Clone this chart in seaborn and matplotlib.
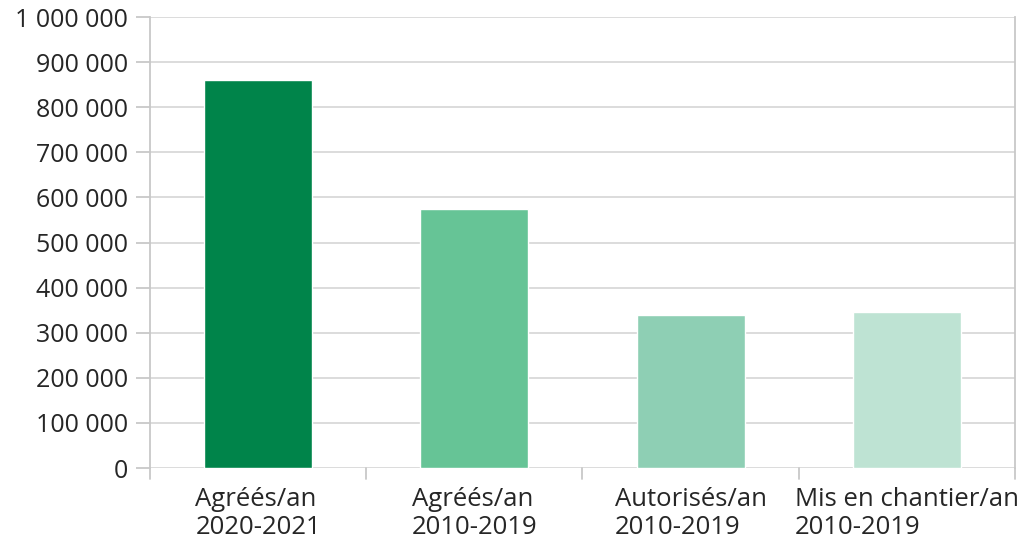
import pandas as pd
import numpy as np
import matplotlib.pyplot as plt
import seaborn as sns

# Values
categories = ['Agréés/an\n2020-2021', 'Agréés/an\n2010-2019',
              'Autorisés/an\n2010-2019', 'Mis en chantier/an\n2010-2019']
values = [860000, 575000, 339000, 346000]
colors = ['#00844A', '#66C496', '#8ECFB4', '#BEE3D3']
yticks = list(range(0, 1000001, 100000))

df = pd.DataFrame({'cat': categories, 'val': values})

sns.set_style('white')
plt.rcParams['font.family'] = ['Open Sans', 'DejaVu Sans']

fig = plt.figure(figsize=(10.21, 5.42), dpi=100)
ax = fig.add_axes([0.147, 0.1365, 0.847, 0.832])

sns.barplot(data=df, x='cat', y='val', hue='cat', palette=colors,
            width=0.5, legend=False, ax=ax, saturation=1)

ax.set_ylim(0, 1000000)
ax.set_xlim(-0.5, len(categories) - 0.5)
ax.set_yticks(yticks)
ax.set_yticklabels([f'{v:,}'.replace(',', ' ') for v in yticks], fontsize=18)
ax.set_xticks(range(len(categories)))
ax.set_xticklabels(categories, fontsize=18.5, multialignment='left', linespacing=1.15)
ax.tick_params(axis='x', length=0, pad=14)
ax.tick_params(axis='y', length=10, width=1.3, color='#c8c8c8', pad=6, left=True)

# category separators below the axis
for x in np.arange(-0.5, len(categories), 1.0):
    ax.plot([x, x], [0, -0.024], color='#c8c8c8', lw=1.3,
            transform=ax.get_xaxis_transform(), clip_on=False)

ax.set_axisbelow(True)
ax.yaxis.grid(True, color='#d9d9d9', lw=1.3)
for side in ['top', 'bottom']:
    ax.spines[side].set_visible(False)
ax.spines['left'].set_color('#c8c8c8')
ax.spines['right'].set_color('#c8c8c8')
ax.spines['left'].set_linewidth(1.3)
ax.spines['right'].set_linewidth(1.3)
ax.set_xlabel('')
ax.set_ylabel('')

fig.savefig('out.png', dpi=100)
